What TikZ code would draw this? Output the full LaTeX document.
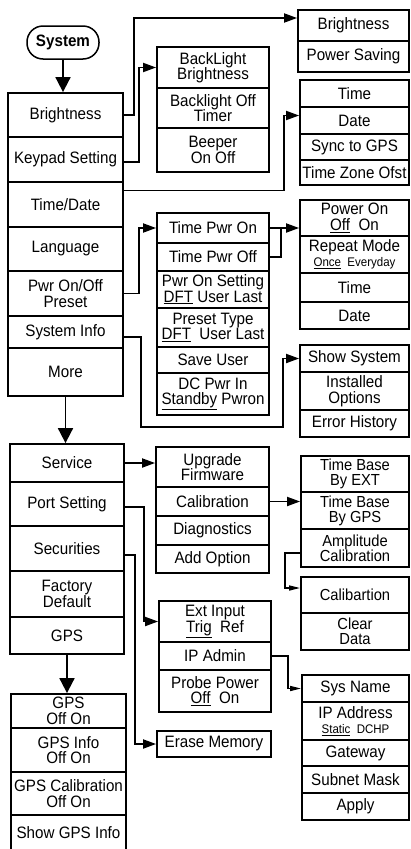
\documentclass[tikz,border=0pt]{standalone}
\usepackage{fontspec}
\setmainfont[FakeStretch=0.92]{Liberation Sans}
\usetikzlibrary{arrows.meta}

\begin{document}
\begin{tikzpicture}[x=1pt,y=-1pt,>={Triangle[length=13pt,width=9pt]},every node/.style={font=\fontsize{16.5}{15.5}\selectfont,align=center},cell/.style={draw,line width=1.8pt,inner sep=0pt},lcol/.style={cell,minimum width=115},mcol/.style={cell,minimum width=112},rcol/.style={cell,minimum width=109},tight/.style={font=\fontsize{16}{15}\selectfont},link/.style={->,line width=1.8pt},droplink/.style={-{Triangle[length=15pt,width=15pt]},line width=1.8pt},tinylink/.style={-{Triangle[length=11pt,width=5pt]},line width=1.5pt}]
\useasboundingbox (0,0) rectangle (411,849);
% main menu
\node[draw,line width=1.5pt,rounded corners=16pt,minimum width=72,minimum height=33,font=\bfseries\fontsize{16.5}{15.5}\selectfont] (sys) at (63,42.5) {System};
\node[lcol,minimum height=44] (bri) at (65.5,115) {Brightness};
\node[lcol,minimum height=45] (key) at (65.5,159.5) {Keypad Setting};
\node[lcol,minimum height=45] (tdate) at (65.5,204.5) {Time/Date};
\node[lcol,minimum height=44] (lang) at (65.5,249) {Language};
\node[lcol,minimum height=45] (pwr) at (65.5,293.5) {Pwr On/Off\\Preset};
\node[lcol,minimum height=32] (sinfo) at (65.5,332) {System Info};
\node[lcol,minimum height=48] (more) at (65.5,372) {More};
% first page submenus
\node[rcol,minimum width=111,minimum height=31] (rb1) at (353.5,25.5) {Brightness};
\node[rcol,minimum width=111,minimum height=31] (rb2) at (353.5,56.5) {Power Saving};
\node[mcol,minimum height=41] (bl1) at (213,67.5) {BackLight\\Brightness};
\node[mcol,minimum height=40] (bl2) at (213,108) {Backlight Off\\Timer};
\node[mcol,minimum height=44] (bl3) at (213,150) {Beeper\\On Off};
\node[rcol,minimum height=27] (t1) at (354.5,93.5) {Time};
\node[rcol,minimum height=27] (t2) at (354.5,120.5) {Date};
\node[rcol,minimum height=26] (t3) at (354.5,147) {Sync to GPS};
\node[rcol,minimum height=25] (t4) at (354.5,172.5) {Time Zone Ofst};
\node[mcol,minimum height=30] (p1) at (213,228) {Time Pwr On};
\node[mcol,minimum height=28] (p2) at (213,257) {Time Pwr Off};
\node[mcol,minimum height=37] (p3) at (213,289.5) {Pwr On Setting\\\underline{DFT} User Last};
\node[mcol,minimum height=39] (p4) at (213,327.5) {Preset Type\\\underline{DFT}\ \ User Last};
\node[mcol,minimum height=26] (p5) at (213,360) {Save User};
\node[mcol,minimum height=42] (p6) at (213,394) {DC Pwr In\\\underline{Standby} Pwron};
\node[rcol,minimum height=36] (po1) at (354.5,218) {Power On\\\underline{Off}\ \ On};
\node[rcol,minimum height=37] (po2) at (354.5,254.5) {Repeat Mode\\{\fontsize{12.5}{12}\selectfont\underline{Once}\ \ Everyday}};
\node[rcol,minimum height=29] (po3) at (354.5,287.5) {Time};
\node[rcol,minimum height=27] (po4) at (354.5,315.5) {Date};
\node[rcol,minimum height=27] (ss1) at (354.5,358.5) {Show System};
\node[rcol,minimum height=38] (ss2) at (354.5,391) {Installed\\Options};
\node[rcol,minimum height=27] (ss3) at (354.5,423.5) {Error History};
% more menu
\node[lcol,minimum width=114,minimum height=38] (serv) at (67,463) {Service};
\node[lcol,minimum width=114,minimum height=44] (port) at (67,504) {Port Setting};
\node[lcol,minimum width=114,minimum height=45] (secu) at (67,548.5) {Securities};
\node[lcol,minimum width=114,minimum height=46] (fact) at (67,594) {Factory\\Default};
\node[lcol,minimum width=114,minimum height=37] (gps) at (67,635.5) {GPS};
\node[mcol,minimum width=113,minimum height=40] (u1) at (212.5,467) {Upgrade\\Firmware};
\node[mcol,minimum width=113,minimum height=29] (u2) at (212.5,501.5) {Calibration};
\node[mcol,minimum width=113,minimum height=29] (u3) at (212.5,530.5) {Diagnostics};
\node[mcol,minimum width=113,minimum height=28] (u4) at (212.5,559) {Add Option};
\node[rcol,tight,minimum width=108,minimum height=36] (tb1) at (355,474) {Time Base\\By EXT};
\node[rcol,tight,minimum width=108,minimum height=37] (tb2) at (355,510.5) {Time Base\\By GPS};
\node[rcol,tight,minimum width=108,minimum height=38] (tb3) at (355,548) {Amplitude\\Calibration};
\node[rcol,tight,minimum width=108,minimum height=36] (cb1) at (355,595) {Calibartion};
\node[rcol,tight,minimum width=108,minimum height=37] (cb2) at (355,631.5) {Clear\\Data};
\node[mcol,minimum height=41] (e1) at (215,621.5) {Ext Input\\\underline{Trig}\ \ Ref};
\node[mcol,minimum height=28] (e2) at (215,656) {IP Admin};
\node[mcol,minimum height=42] (e3) at (215,691) {Probe Power\\\underline{Off}\ \ On};
\node[mcol,minimum width=114,minimum height=26] (erase) at (214,744) {Erase Memory};
\node[rcol,minimum width=107,minimum height=27] (sn1) at (355.5,688.5) {Sys Name};
\node[rcol,minimum width=107,minimum height=38] (sn2) at (355.5,721) {IP Address\\{\fontsize{12.5}{12}\selectfont\underline{Static}\ \ DCHP}};
\node[rcol,minimum width=107,minimum height=26] (sn3) at (355.5,753) {Gateway};
\node[rcol,minimum width=107,minimum height=27] (sn4) at (355.5,779.5) {Subnet Mask};
\node[rcol,minimum width=107,minimum height=27] (sn5) at (355.5,806.5) {Apply};
\node[lcol,minimum height=34] (gon) at (68.5,711) {GPS\\Off On};
\node[lcol,minimum height=44] (ginfo) at (68.5,750) {GPS Info\\Off On};
\node[lcol,minimum height=43] (gcal) at (68.5,793.5) {GPS Calibration\\Off On};
\node[lcol,minimum height=36] (gshow) at (68.5,833) {Show GPS Info};
% connectors
\draw[droplink] (sys.south) -- (sys.south |- bri.north);
\draw[droplink] (more.south) -- (more.south |- serv.north);
\draw[droplink] (gps.south) -- (gps.south |- gon.north);
\draw[link] (bri.east) -- ++(10,0) |- ([yshift=7.5pt]rb1.west);
\draw[link] ([yshift=-2.5pt]key.east) -- ++(15,0) |- (bl1.west);
\draw[link] ([yshift=14pt]tdate.east) -- ++(160,0) |- ([yshift=5pt]t2.west);
\draw[link] (pwr.east) -- ++(15,0) |- (p1.west);
\draw[link] ([yshift=-5pt]sinfo.east) -- ++(17,0) -- ++(0,90) -- ++(142,0) |- (ss1.west);
\draw[link] (p1.east) -- (p1.east -| po1.west);
\draw[line width=1.8pt] (p2.east) -- ++(11,0) -- ++(0,-29);
\draw[link] (serv.east) -- (serv.east -| u1.west);
\draw[link] (u2.east) -- (u2.east -| tb2.west);
\draw[tinylink] ([yshift=-5pt]tb3.west) -- ++(-15,0) |- ([yshift=7pt]cb1.west);
\draw[link] ([yshift=-3pt]port.east) -- ++(19,0) |- (e1.west);
\draw[link] ([yshift=-6.5pt]secu.east) -- ++(10,0) |- (erase.west);
\draw[tinylink] (e2.east) -- ++(16,0) |- (sn1.west);
\end{tikzpicture}
\end{document}
